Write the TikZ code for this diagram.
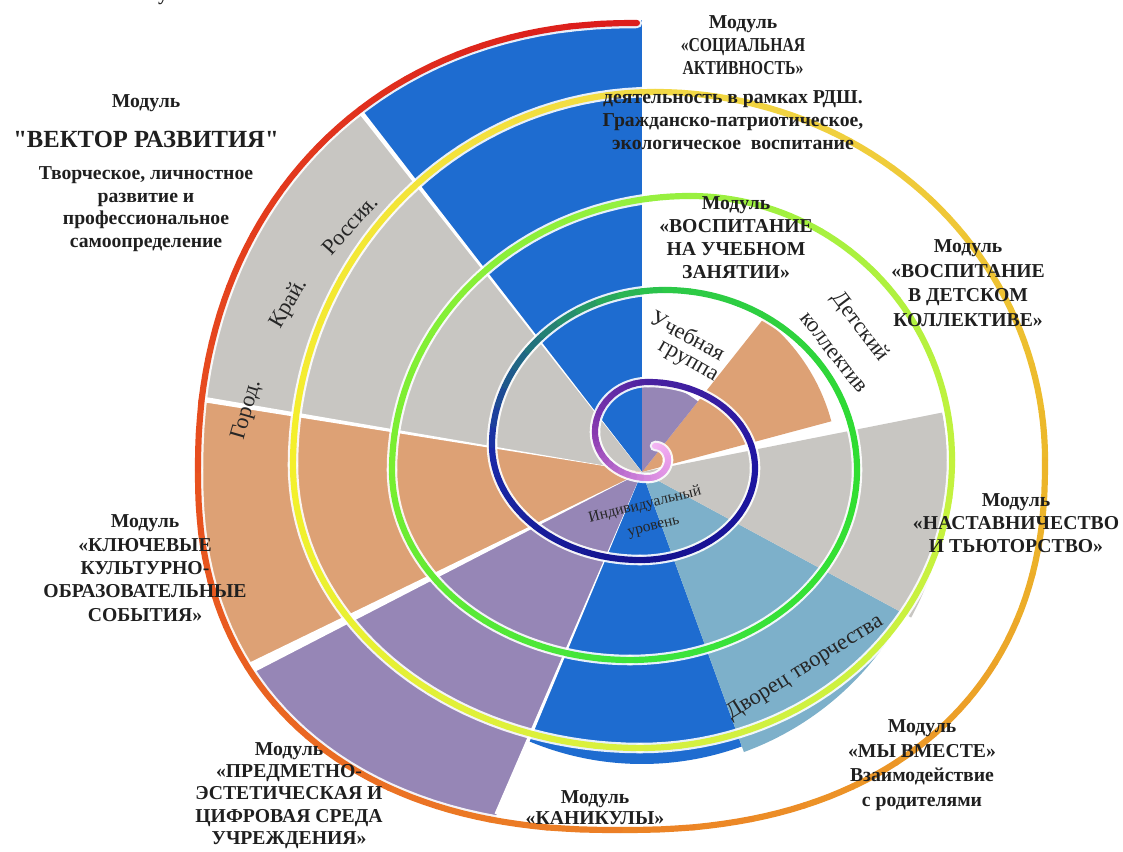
\documentclass[tikz,border=0pt]{standalone}
\usepackage{graphicx}
\usepackage{fontspec}
\setmainfont{Liberation Serif}[Ligatures=TeXOff]
\definecolor{wblue}{RGB}{30,108,208}
\definecolor{wgrey}{RGB}{200,198,194}
\definecolor{wtan}{RGB}{221,161,117}
\definecolor{wlav}{RGB}{150,134,182}
\definecolor{wteal}{RGB}{125,176,202}
\definecolor{s0}{HTML}{F4B8F4}
\definecolor{s1}{HTML}{EBA0EC}
\definecolor{s2}{HTML}{D88CE0}
\definecolor{s3}{HTML}{8A3AB0}
\definecolor{s4}{HTML}{4A22A0}
\definecolor{s5}{HTML}{1E16A2}
\definecolor{s6}{HTML}{14128E}
\definecolor{s7}{HTML}{1A2AA8}
\definecolor{s8}{HTML}{2CC848}
\definecolor{s9}{HTML}{30DE30}
\definecolor{s10}{HTML}{3CE43C}
\definecolor{s11}{HTML}{78EE30}
\definecolor{s12}{HTML}{98F040}
\definecolor{s13}{HTML}{C2F23E}
\definecolor{s14}{HTML}{D6F040}
\definecolor{s15}{HTML}{F4F02A}
\definecolor{s16}{HTML}{F2DA46}
\definecolor{s17}{HTML}{ECB82A}
\definecolor{s18}{HTML}{EC8226}
\definecolor{s19}{HTML}{E8501E}
\definecolor{s20}{HTML}{DC1C1C}
\tikzset{
  spglow/.style={draw=white, opacity=0.9, line width=7.5pt, line cap=round},
  spcol/.style={line width=4.4pt, line cap=round},
  mod/.style={font=\bfseries\fontsize{14}{16.3}\selectfont, align=center, inner sep=0pt, text=black!88},
  lab/.style={font=\fontsize{16}{18}\selectfont, inner sep=0pt, text=black!85},
}
\newcommand\narrow[1]{\scalebox{0.8}[1]{#1}}
% sector: colour, from angle, to angle, radius (maths angles, centre 642,472)
\newcommand\sectorfill[4]{\fill[#1] (642,472) -- plot[domain=#2:#3, samples=50] ({642+#4*cos(\x)}, {472-#4*sin(\x)}) -- cycle;}
% white separator: angle, half width (deg), radius
\newcommand\sepline[3]{\fill[white] (642,472) -- ({642+#3*cos(#1-#2)}, {472-#3*sin(#1-#2)}) -- ({642+#3*cos(#1+#2)}, {472-#3*sin(#1+#2)}) -- cycle;}
% quarter of the spiral: cx cy rx ry t0 colA colB
\newcommand\qglow[7]{%
  \pgfmathsetmacro\qsx{round(1.4142*cos(#5+45))}%
  \pgfmathsetmacro\qsy{round(1.4142*sin(#5+45))}%
  \pgfmathsetmacro\qend{#5+90}%
  \draw[spglow] plot[domain=#5:\qend, samples=40] ({#1+(\qsx)*#3*pow(abs(cos(\x))+0.0001,\ee)}, {#2+(\qsy)*#4*pow(abs(sin(\x))+0.0001,\ee)});
}
\newcommand\qcol[7]{%
  \pgfmathsetmacro\qsx{round(1.4142*cos(#5+45))}%
  \pgfmathsetmacro\qsy{round(1.4142*sin(#5+45))}%
  \foreach \k in {0,...,11}{%
    \pgfmathsetmacro\ta{#5+7.5*\k}%
    \pgfmathsetmacro\tb{#5+7.5*\k+7.5}%
    \pgfmathtruncatemacro\pc{100-(\k+0.5)*100/12}%
    \draw[spcol, draw=#6!\pc!#7] plot[domain=\ta:\tb, samples=5] ({#1+(\qsx)*#3*pow(abs(cos(\x))+0.0001,\ee)}, {#2+(\qsy)*#4*pow(abs(sin(\x))+0.0001,\ee)});
  }%
}
\newcommand\spiralquarters{%
\def\ee{1}%
\qarc{655}{460}{13}{14}{270}{s0}{s1}%
\qarc{648}{460}{20}{18}{0}{s1}{s2}%
\qarc{648}{432}{53}{46}{90}{s2}{s3}%
\qarc{648}{432}{53}{50}{180}{s3}{s4}%
\qarc{648}{468}{107}{86}{270}{s4}{s5}%
\qarc{640}{468}{115}{92}{0}{s5}{s6}%
\qarc{640}{445}{148}{115}{90}{s6}{s7}%
\qarc{665}{445}{173}{155}{180}{s7}{s8}%
\qarc{665}{470}{192}{180}{270}{s8}{s9}%
\qarc{630}{470}{227}{190}{0}{s9}{s10}%
\qarc{630}{470}{238}{190}{90}{s10}{s11}%
\qarc{690}{470}{298}{274}{180}{s11}{s12}%
\qarc{690}{460}{262}{264}{270}{s12}{s13}%
\qarc{640}{460}{312}{288}{0}{s13}{s14}%
\qarc{640}{465}{347}{283}{90}{s14}{s15}%
\qarc{655}{465}{362}{373}{180}{s15}{s16}%
\qarc{655}{460}{390}{368}{270}{s16}{s17}%
\def\ee{0.87}%
\qarc{620}{460}{425}{370}{0}{s17}{s18}%
\qarc{620}{470}{422}{360}{90}{s18}{s19}%
\def\ee{0.93}%
\qarc{637}{470}{439}{447}{180}{s19}{s20}%
}
\begin{document}
\begin{tikzpicture}[x=0.025cm, y=-0.025cm]
\useasboundingbox (0,0) rectangle (1123,852);
\fill[white] (0,0) rectangle (1123,852);

% outer sectors, bounded by the last turn of the spiral
\begin{scope}
\clip (642,472) -- (620,830)
  -- plot[domain=90:180, samples=60] ({620-422*pow(abs(cos(\x))+0.0001,0.87)}, {470+360*pow(abs(sin(\x))+0.0001,0.87)})
  -- plot[domain=180:270, samples=60] ({637-439*pow(abs(cos(\x))+0.0001,0.93)}, {470-447*pow(abs(sin(\x))+0.0001,0.93)})
  -- (642,20) -- cycle;
\sectorfill{wblue}{90}{128}{600}
\sectorfill{wgrey}{128}{170.6}{600}
\sectorfill{wtan}{170.6}{206.6}{600}
\sectorfill{wlav}{206.6}{247}{600}
\sepline{128}{0.3}{600}
\sepline{170.6}{0.35}{600}
\sepline{206.6}{0.7}{600}
\end{scope}

% inner sectors
\sectorfill{wblue}{247}{290}{292}
\sectorfill{wteal}{290}{331.6}{298}
\sectorfill{wgrey}{331.6}{371.2}{306}
\sectorfill{wtan}{15}{51.6}{196}
\sectorfill{wlav}{51.6}{90}{90}
\sepline{247}{0.35}{372}

% spiral
\let\qarc\qglow
\spiralquarters
\let\qarc\qcol
\spiralquarters

% labels in the sectors
\node[lab, rotate=48] (rossiya) at (350,225) {Россия.};
\node[lab, rotate=60] (kray) at (289,304) {Край.};
\node[lab, rotate=74] (gorod) at (247,410) {Город.};
\node[lab, rotate=-28] (ucheb1) at (688,335) {Учебная};
\node[lab, rotate=-30] (ucheb2) at (687,363) {группа};
\node[lab, rotate=-53] (det1) at (860,327) {Детский};
\node[lab, rotate=-52] (det2) at (833,353) {коллектив};
\node[lab, rotate=32] (dvorets) at (805,668) {Дворец творчества};
\node[lab, font=\fontsize{11}{12}\selectfont, rotate=14] (ind1) at (645,505) {Индивидуальный};
\node[lab, font=\fontsize{11}{12}\selectfont, rotate=14] (ind2) at (654,528) {уровень};

% module labels
\node[mod, anchor=base] (top) at (163,1) {у};
\node[mod] (a1) at (146,103) {Модуль};
\node[mod, font=\bfseries\fontsize{17.5}{20}\selectfont] (a2) at (146,139) {"ВЕКТОР РАЗВИТИЯ"};
\node[mod, font=\bfseries\fontsize{14}{16.1}\selectfont] (a3) at (146,209) {Творческое, личностное\\развитие и\\профессиональное\\самоопределение};
\node[mod] (b1) at (743,45) {Модуль\\\narrow{«СОЦИАЛЬНАЯ}\\\narrow{АКТИВНОСТЬ»}};
\node[mod] (b2) at (733,120) {деятельность в рамках РДШ.\\Гражданско-патриотическое,\\экологическое\ \ воспитание};
\node[mod] (c) at (736,237.5) {Модуль\\«ВОСПИТАНИЕ\\НА УЧЕБНОМ\\ЗАНЯТИИ»};
\node[mod, font=\bfseries\fontsize{14}{17.5}\selectfont] (d) at (968,283) {Модуль\\«ВОСПИТАНИЕ\\В ДЕТСКОМ\\КОЛЛЕКТИВЕ»};
\node[mod, font=\bfseries\fontsize{14}{16.6}\selectfont] (e) at (1016,523) {Модуль\\«НАСТАВНИЧЕСТВО\\И ТЬЮТОРСТВО»};
\node[mod, font=\bfseries\fontsize{14}{16.6}\selectfont] (f) at (145,568) {Модуль\\«КЛЮЧЕВЫЕ\\КУЛЬТУРНО-\\ОБРАЗОВАТЕЛЬНЫЕ\\СОБЫТИЯ»};
\node[mod, font=\bfseries\fontsize{14}{15.8}\selectfont] (g) at (289,795.5) {Модуль\\«ПРЕДМЕТНО-\\ЭСТЕТИЧЕСКАЯ И\\ЦИФРОВАЯ СРЕДА\\УЧРЕЖДЕНИЯ»};
\node[mod, font=\bfseries\fontsize{14}{14.9}\selectfont] (h) at (595,807.5) {Модуль\\«КАНИКУЛЫ»};
\node[mod, font=\bfseries\fontsize{14}{17.5}\selectfont] (i) at (922,765) {Модуль\\«МЫ ВМЕСТЕ»\\Взаимодействие\\с родителями};
\end{tikzpicture}
\end{document}
